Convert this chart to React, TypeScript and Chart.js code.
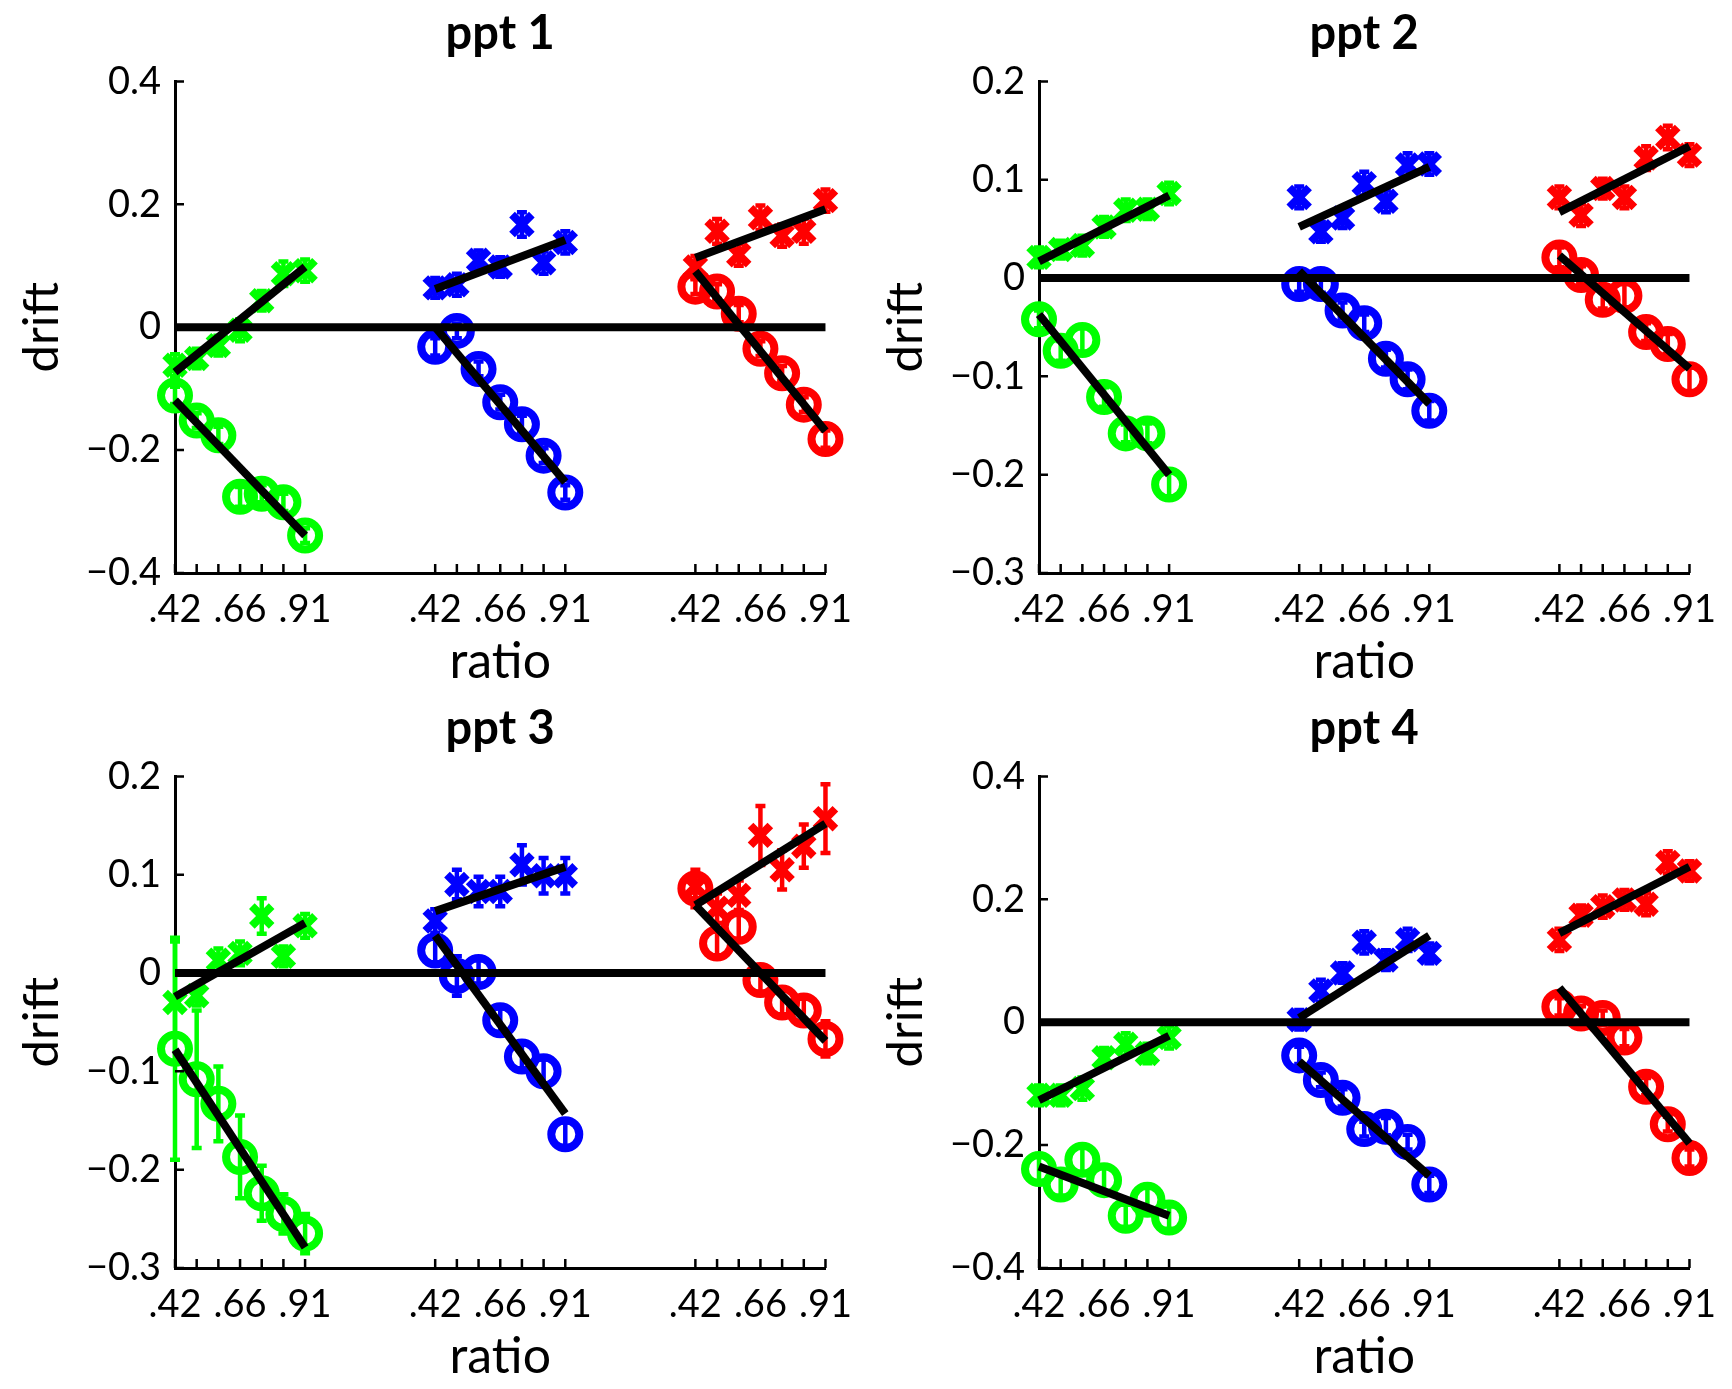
import React, { useEffect, useRef } from "react";
import { Chart, registerables } from "chart.js";

Chart.register(...registerables);

// x positions: three colour groups of seven ratios each
const GROUP_START = [0, 12, 24];
const RATIO_STEPS = [0, 1, 2, 3, 4, 5, 6];
const RATIO_LABELS = [".42", "", "", ".66", "", "", ".91"];
const GROUP_COLORS = ["rgb(0,255,0)", "rgb(0,0,255)", "rgb(255,0,0)"];

// ppt 1
const p1Cross = [
    [-0.062, -0.051, -0.030, -0.005, 0.043, 0.087, 0.092],
    [0.064, 0.069, 0.109, 0.098, 0.167, 0.105, 0.138],
    [0.098, 0.156, 0.118, 0.178, 0.149, 0.156, 0.206],
];
const p1Circle = [
    [-0.111, -0.152, -0.176, -0.276, -0.271, -0.285, -0.339],
    [-0.032, -0.006, -0.068, -0.122, -0.158, -0.209, -0.269],
    [0.066, 0.058, 0.022, -0.035, -0.075, -0.126, -0.182],
];
const p1CrossErr = [
    [0.018, 0.016, 0.016, 0.018, 0.016, 0.02, 0.018],
    [0.016, 0.018, 0.016, 0.016, 0.02, 0.018, 0.018],
    [0.018, 0.02, 0.018, 0.02, 0.018, 0.02, 0.018],
];
const p1CircleErr = [
    [0.014, 0.012, 0.014, 0.016, 0.014, 0.014, 0.012],
    [0.014, 0.012, 0.012, 0.012, 0.014, 0.012, 0.012],
    [0.012, 0.012, 0.014, 0.012, 0.012, 0.012, 0.014],
];
const p1CrossFit = [[-0.073, 0.098], [0.062, 0.142], [0.113, 0.192]];
const p1CircleFit = [[-0.119, -0.339], [0.0, -0.252], [0.091, -0.169]];

// ppt 2
const p2Cross = [
    [0.021, 0.029, 0.033, 0.052, 0.069, 0.070, 0.086],
    [0.082, 0.047, 0.061, 0.096, 0.078, 0.115, 0.116],
    [0.082, 0.064, 0.091, 0.082, 0.122, 0.143, 0.125],
];
const p2Circle = [
    [-0.042, -0.074, -0.063, -0.121, -0.158, -0.158, -0.210],
    [-0.006, -0.006, -0.033, -0.046, -0.082, -0.103, -0.135],
    [0.021, 0.003, -0.022, -0.018, -0.055, -0.067, -0.103],
];
const p2CrossErr = [
    [0.01, 0.009, 0.01, 0.01, 0.011, 0.01, 0.011],
    [0.011, 0.01, 0.01, 0.012, 0.011, 0.012, 0.011],
    [0.011, 0.011, 0.01, 0.011, 0.012, 0.012, 0.011],
];
const p2CircleErr = [
    [0.009, 0.01, 0.012, 0.01, 0.009, 0.01, 0.012],
    [0.008, 0.009, 0.008, 0.009, 0.009, 0.01, 0.01],
    [0.01, 0.009, 0.009, 0.012, 0.009, 0.01, 0.012],
];
const p2CrossFit = [[0.017, 0.084], [0.052, 0.113], [0.067, 0.134]];
const p2CircleFit = [[-0.037, -0.200], [0.007, -0.128], [0.023, -0.092]];

// ppt 3
const p3Cross = [
    [-0.030, -0.023, 0.013, 0.020, 0.058, 0.017, 0.048],
    [0.053, 0.090, 0.083, 0.083, 0.110, 0.099, 0.099],
    [0.088, 0.066, 0.079, 0.140, 0.105, 0.129, 0.157],
];
const p3Circle = [
    [-0.077, -0.108, -0.133, -0.187, -0.224, -0.245, -0.265],
    [0.023, -0.003, 0.001, -0.048, -0.085, -0.100, -0.164],
    [0.086, 0.030, 0.047, -0.007, -0.030, -0.038, -0.067],
];
const p3CrossErr = [
    [0.062, 0.01, 0.012, 0.012, 0.018, 0.01, 0.012],
    [0.012, 0.015, 0.015, 0.015, 0.02, 0.018, 0.018],
    [0.012, 0.015, 0.015, 0.03, 0.02, 0.022, 0.035],
];
const p3CircleErr = [
    [0.113, 0.07, 0.038, 0.042, 0.028, 0.02, 0.02],
    [0.012, 0.02, 0.012, 0.012, 0.012, 0.012, 0.012],
    [0.019, 0.012, 0.015, 0.012, 0.012, 0.012, 0.018],
];
const p3CrossFit = [[-0.024, 0.051], [0.063, 0.108], [0.069, 0.152]];
const p3CircleFit = [[-0.078, -0.279], [0.038, -0.143], [0.069, -0.069]];

// ppt 4
const p4Cross = [
    [-0.119, -0.119, -0.108, -0.058, -0.036, -0.051, -0.025],
    [0.004, 0.051, 0.080, 0.130, 0.101, 0.134, 0.112],
    [0.134, 0.174, 0.188, 0.199, 0.192, 0.260, 0.246],
];
const p4Circle = [
    [-0.239, -0.264, -0.224, -0.257, -0.315, -0.289, -0.318],
    [-0.054, -0.094, -0.123, -0.174, -0.170, -0.195, -0.264],
    [0.025, 0.014, 0.007, -0.025, -0.105, -0.166, -0.221],
];
const p4CrossErr = [
    [0.016, 0.016, 0.018, 0.016, 0.018, 0.016, 0.018],
    [0.016, 0.018, 0.016, 0.018, 0.016, 0.018, 0.016],
    [0.018, 0.016, 0.018, 0.016, 0.018, 0.018, 0.016],
];
const p4CircleErr = [
    [0.02, 0.018, 0.022, 0.02, 0.018, 0.02, 0.018],
    [0.014, 0.012, 0.014, 0.012, 0.014, 0.012, 0.014],
    [0.014, 0.012, 0.012, 0.014, 0.014, 0.012, 0.014],
];
const p4CrossFit = [[-0.127, -0.022], [0.007, 0.141], [0.145, 0.253]];
const p4CircleFit = [[-0.235, -0.315], [-0.064, -0.250], [0.056, -0.197]];

const FONT = "Lato, 'DejaVu Sans', sans-serif";

const fmtTick = (v: number) => {
    if (Math.abs(v) < 1e-9) return "0";
    return v.toFixed(1).replace("-", "\u2212");
};

// vertical error bars with small caps, drawn under the markers
const errorBarPlugin = {
    id: "errorBars",
    beforeDatasetsDraw(chart: any) {
        const { ctx, scales } = chart;
        chart.data.datasets.forEach((ds: any) => {
            if (!ds.errors) return;
            ctx.save();
            ctx.strokeStyle = ds.borderColor;
            ctx.lineWidth = 4.5;
            ds.data.forEach((p: any, i: number) => {
                const e = ds.errors[i];
                const x = scales.x.getPixelForValue(p.x);
                const y1 = scales.y.getPixelForValue(p.y - e);
                const y2 = scales.y.getPixelForValue(p.y + e);
                ctx.beginPath();
                ctx.moveTo(x, y1);
                ctx.lineTo(x, y2);
                ctx.moveTo(x - 5, y1);
                ctx.lineTo(x + 5, y1);
                ctx.moveTo(x - 5, y2);
                ctx.lineTo(x + 5, y2);
                ctx.stroke();
            });
            ctx.restore();
        });
    },
};

// matlab style tick marks pointing into the axes
const inwardTicksPlugin = {
    id: "inwardTicks",
    afterDraw(chart: any) {
        const { ctx, scales, chartArea } = chart;
        ctx.save();
        ctx.strokeStyle = "#000";
        ctx.lineWidth = 2.5;
        ctx.beginPath();
        scales.x.ticks.forEach((t: any) => {
            const x = scales.x.getPixelForValue(t.value);
            ctx.moveTo(x, chartArea.bottom);
            ctx.lineTo(x, chartArea.bottom - 9);
        });
        scales.y.ticks.forEach((t: any) => {
            const y = scales.y.getPixelForValue(t.value);
            ctx.moveTo(chartArea.left, y);
            ctx.lineTo(chartArea.left + 9, y);
        });
        ctx.stroke();
        ctx.restore();
    },
};

interface PanelProps {
    title: string;
    yMin: number;
    yMax: number;
    yStep: number;
    cross: number[][];
    circle: number[][];
    crossErr: number[][];
    circleErr: number[][];
    crossFit: number[][];
    circleFit: number[][];
}

const Panel: React.FC<PanelProps> = (p) => {
    const canvasRef = useRef<HTMLCanvasElement | null>(null);

    useEffect(() => {
        if (!canvasRef.current) return;

        const tickPositions = GROUP_START.flatMap((g) => RATIO_STEPS.map((s) => g + s));
        const datasets: any[] = [];

        datasets.push({
            type: "line",
            data: [{ x: 0, y: 0 }, { x: 30, y: 0 }],
            borderColor: "#000",
            borderWidth: 8,
            pointRadius: 0,
            clip: false,
            order: 0,
        });

        GROUP_START.forEach((g, k) => {
            [p.crossFit[k], p.circleFit[k]].forEach((fit) => {
                datasets.push({
                    type: "line",
                    data: [{ x: g, y: fit[0] }, { x: g + 6, y: fit[1] }],
                    borderColor: "#000",
                    borderWidth: 8,
                    pointRadius: 0,
                    clip: false,
                    order: 0,
                });
            });
        });

        GROUP_START.forEach((g, k) => {
            datasets.push({
                type: "scatter",
                data: p.cross[k].map((v, i) => ({ x: g + RATIO_STEPS[i], y: v })),
                errors: p.crossErr[k],
                borderColor: GROUP_COLORS[k],
                backgroundColor: GROUP_COLORS[k],
                pointStyle: "crossRot",
                pointRadius: 14,
                pointBorderWidth: 8,
                clip: false,
                order: 1,
            });
            datasets.push({
                type: "scatter",
                data: p.circle[k].map((v, i) => ({ x: g + RATIO_STEPS[i], y: v })),
                errors: p.circleErr[k],
                borderColor: GROUP_COLORS[k],
                backgroundColor: "rgba(0,0,0,0)",
                pointStyle: "circle",
                pointRadius: 14,
                pointBorderWidth: 8,
                clip: false,
                order: 1,
            });
        });

        const chart = new Chart(canvasRef.current, {
            type: "scatter",
            data: { datasets },
            options: {
                animation: false,
                responsive: true,
                maintainAspectRatio: false,
                events: [],
                layout: { padding: { left: 0, right: 33, top: 0, bottom: 0 } },
                plugins: {
                    legend: { display: false },
                    tooltip: { enabled: false },
                    title: {
                        display: true,
                        text: p.title,
                        fullSize: false,
                        color: "#000",
                        font: { family: FONT, size: 47, weight: "bold" },
                        padding: { top: 6, bottom: 19 },
                    },
                },
                scales: {
                    x: {
                        type: "linear",
                        min: 0,
                        max: 30,
                        afterBuildTicks: (s: any) => {
                            s.ticks = tickPositions.map((v) => ({ value: v }));
                        },
                        afterFit: (s: any) => {
                            s.height = 121;
                        },
                        grid: { display: true, drawOnChartArea: false, drawTicks: false },
                        border: { display: true, color: "#000", width: 3 },
                        ticks: {
                            autoSkip: false,
                            maxRotation: 0,
                            minRotation: 0,
                            padding: 14,
                            color: "#000",
                            font: { family: FONT, size: 38 },
                            callback: (value: any) => RATIO_LABELS[Math.round(Number(value)) % 12] ?? "",
                        },
                        title: {
                            display: true,
                            text: "ratio",
                            color: "#000",
                            font: { family: FONT, size: 50 },
                            padding: { top: 0, bottom: 2 },
                        },
                    },
                    y: {
                        type: "linear",
                        min: p.yMin,
                        max: p.yMax,
                        afterFit: (s: any) => {
                            s.width = 175;
                        },
                        grid: { display: true, drawOnChartArea: false, drawTicks: false },
                        border: { display: true, color: "#000", width: 3 },
                        ticks: {
                            stepSize: p.yStep,
                            padding: 14,
                            color: "#000",
                            font: { family: FONT, size: 38 },
                            callback: (value: any) => fmtTick(Number(value)),
                        },
                        title: {
                            display: true,
                            text: "drift",
                            color: "#000",
                            font: { family: FONT, size: 49 },
                            padding: { top: 13, bottom: 0 },
                        },
                    },
                },
            },
            plugins: [errorBarPlugin, inwardTicksPlugin],
        } as any);

        return () => {
            chart.destroy();
        };
    }, [p]);

    return <canvas ref={canvasRef} />;
};

const panels: { left: number; top: number; props: PanelProps }[] = [
    {
        left: 0, top: 0,
        props: { title: "ppt 1", yMin: -0.4, yMax: 0.4, yStep: 0.2, cross: p1Cross, circle: p1Circle, crossErr: p1CrossErr, circleErr: p1CircleErr, crossFit: p1CrossFit, circleFit: p1CircleFit },
    },
    {
        left: 864, top: 0,
        props: { title: "ppt 2", yMin: -0.3, yMax: 0.2, yStep: 0.1, cross: p2Cross, circle: p2Circle, crossErr: p2CrossErr, circleErr: p2CircleErr, crossFit: p2CrossFit, circleFit: p2CircleFit },
    },
    {
        left: 0, top: 695,
        props: { title: "ppt 3", yMin: -0.3, yMax: 0.2, yStep: 0.1, cross: p3Cross, circle: p3Circle, crossErr: p3CrossErr, circleErr: p3CircleErr, crossFit: p3CrossFit, circleFit: p3CircleFit },
    },
    {
        left: 864, top: 695,
        props: { title: "ppt 4", yMin: -0.4, yMax: 0.4, yStep: 0.2, cross: p4Cross, circle: p4Circle, crossErr: p4CrossErr, circleErr: p4CircleErr, crossFit: p4CrossFit, circleFit: p4CircleFit },
    },
];

export default function App() {
    return (
        <div style={{ position: "absolute", left: 0, top: 0, width: 1732, height: 1389, background: "#fff" }}>
            {panels.map((pn, i) => (
                <div key={i} style={{ position: "absolute", left: pn.left, top: pn.top, width: 866, height: 694 }}>
                    <Panel {...pn.props} />
                </div>
            ))}
        </div>
    );
}
